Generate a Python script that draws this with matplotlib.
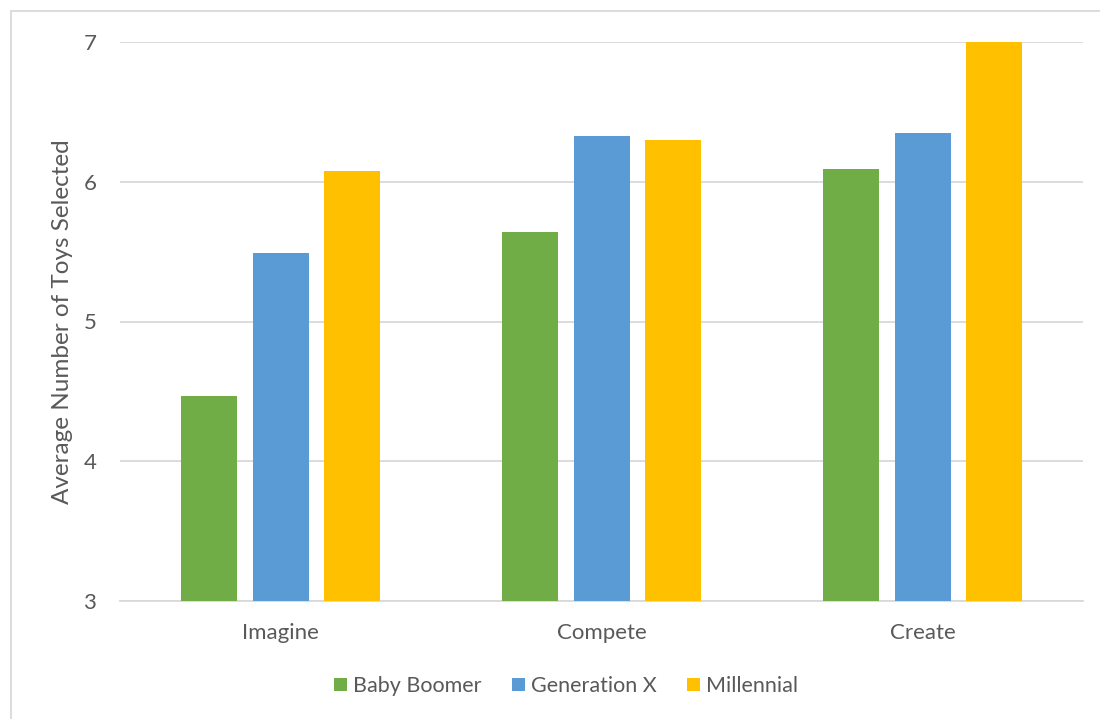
import matplotlib
matplotlib.use("Agg")
import matplotlib.pyplot as plt
from matplotlib.patches import Rectangle
import numpy as np

categories = ["Imagine", "Compete", "Create"]
series_names = ["Baby Boomer", "Generation X", "Millennial"]
baby_boomer = [4.47, 5.64, 6.09]
generation_x = [5.49, 6.33, 6.35]
millennial = [6.08, 6.30, 7.00]
yticks = [3, 4, 5, 6, 7]
colors = ["#70AD47", "#5B9BD5", "#FFC000"]

plt.rcParams['font.family'] = ['Lato', 'DejaVu Sans']
text_color = "#595959"

fig = plt.figure(figsize=(11, 7.19), dpi=100)
ax = fig.add_axes([120/1100, 1-601/719, (1083.3-120)/1100, (601-42)/719])

x = np.arange(len(categories))
step = 0.222
width = 0.1744
for i, (vals, name, c) in enumerate(zip([baby_boomer, generation_x, millennial], series_names, colors)):
    ax.bar(x + (i-1)*step, np.array(vals) - 3, bottom=3, width=width, color=c, label=name, zorder=3)

ax.set_xlim(-0.5, 2.5)
ax.set_ylim(3, 7)
ax.set_yticks(yticks)
ax.set_xticks(x)
ax.set_xticklabels(categories)
ax.grid(axis='y', color='#D9D9D9', linewidth=1.3, zorder=0)
for s in ['top', 'right', 'left']:
    ax.spines[s].set_visible(False)
ax.spines['bottom'].set_color('#D9D9D9')
ax.spines['bottom'].set_linewidth(1.3)
ax.tick_params(axis='both', length=0, colors=text_color, labelsize=16)
ax.tick_params(axis='y', pad=17)
ax.tick_params(axis='x', pad=15.5)
ax.set_ylabel("Average Number of Toys Selected", color=text_color, fontsize=17.5)
ax.yaxis.set_label_coords(-(120-73)/963.3, 0.5)

leg = fig.legend(loc='center', bbox_to_anchor=(566/1100, 1-686/719), ncol=3, frameon=False,
                 fontsize=15.5, handlelength=0.6, handleheight=0.6, handletextpad=0.3, columnspacing=1.4)
for t in leg.get_texts():
    t.set_color(text_color)

fig.patches.append(Rectangle((11/1100, -0.01), 1.1, 1-11/719+0.01, transform=fig.transFigure,
                             fill=False, edgecolor='#D9D9D9', linewidth=1.3))

fig.savefig("out.png", dpi=100)
